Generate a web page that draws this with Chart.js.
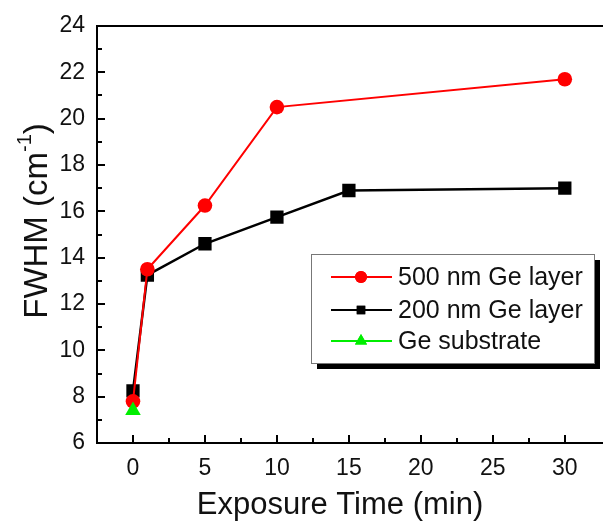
<!DOCTYPE html>
<html>
<head>
<meta charset="utf-8">
<script src="https://cdn.jsdelivr.net/npm/chart.js@4/dist/chart.umd.min.js"></script>
<style>html,body{margin:0;padding:0;background:#fff;overflow:hidden}</style>
</head>
<body>
<canvas id="c" width="603" height="521"></canvas>
<script>
const times500 = [0, 1, 5, 10, 30];
const fwhm500 = [7.8, 13.5, 16.25, 20.5, 21.7];
const times200 = [0, 1, 5, 10, 15, 30];
const fwhm200 = [8.25, 13.25, 14.6, 15.75, 16.9, 17.0];
const timesSub = [0];
const fwhmSub = [7.4];
const xTicks = [0, 5, 10, 15, 20, 25, 30];
const yTicks = [6, 8, 10, 12, 14, 16, 18, 20, 22, 24];
const names = ['500 nm Ge layer', '200 nm Ge layer', 'Ge substrate'];

const FONT = '"Liberation Sans", Arial, sans-serif';
const pts = (xs, ys) => xs.map((x, i) => ({x: x, y: ys[i]}));

function drawFrame(chart) {
    const ctx = chart.ctx;
    const xs = chart.scales.x, ys = chart.scales.y;
    const L = Math.round(xs.getPixelForValue(-2.5));
    const R = 603;
    const T = Math.round(ys.getPixelForValue(24));
    const B = Math.round(ys.getPixelForValue(6));
    ctx.save();
    ctx.fillStyle = '#fff';
    ctx.fillText(' ' + L + ' ' + T + ' ' + B, 450, 10);
    ctx.fillStyle = '#000';
    // box lines (right edge is cut off in the figure)
    ctx.fillRect(L - 1, T - 1, R - L + 1, 2);
    ctx.fillRect(L - 1, T - 1, 2, B - T + 2);
    ctx.fillRect(L - 1, B - 1, R - L + 1, 2);
    // inner ticks, y
    for (let v = 7; v < 24; v++) {
        const p = Math.round(ys.getPixelForValue(v));
        const len = v % 2 === 0 ? 8 : 5;
        ctx.fillRect(L, p - 1, len, 2);
    }
    // inner ticks, x
    for (let v = 0; v <= 30; v += 2.5) {
        const p = Math.round(xs.getPixelForValue(v));
        const len = v % 5 === 0 ? 8 : 5;
        ctx.fillRect(p - 1, B - len, 2, len);
    }
    ctx.restore();
}

const frame = {
    id: 'frame',
    beforeDatasetsDraw(chart) {
        drawFrame(chart);
    },
    afterDraw(chart) {
        drawFrame(chart);
        const ctx = chart.ctx;

        // axis titles
        ctx.save();
        ctx.fillStyle = '#111';
        ctx.font = '31px ' + FONT;
        ctx.textAlign = 'center';
        ctx.textBaseline = 'alphabetic';
        ctx.fillText('Exposure Time (min)', 340, 514);

        ctx.translate(35, 221);
        ctx.rotate(-Math.PI / 2);
        ctx.textAlign = 'left';
        const big = '33px ' + FONT, small = '20px ' + FONT;
        ctx.font = big;
        const w1 = ctx.measureText('FWHM (cm').width, w3 = ctx.measureText(')').width;
        ctx.font = small;
        const w2 = ctx.measureText('-1').width;
        let x = -(w1 + w2 + w3) / 2;
        ctx.font = big;
        ctx.fillText('FWHM (cm', x, 12);
        x += w1;
        ctx.font = small;
        ctx.fillText('-1', x, -4);
        x += w2;
        ctx.font = big;
        ctx.fillText(')', x, 12);
        ctx.restore();

        // legend box
        ctx.save();
        ctx.fillStyle = '#000';
        ctx.fillRect(317, 260, 283, 109);
        ctx.fillStyle = '#fff';
        ctx.fillRect(311, 254, 283, 109);
        ctx.strokeStyle = '#777';
        ctx.lineWidth = 1;
        ctx.strokeRect(311.5, 254.5, 283, 109);
        const rows = [277, 310, 341];
        chart.data.datasets.forEach((ds, i) => {
            const y = rows[i];
            ctx.fillStyle = ds.borderColor;
            ctx.fillRect(331, y - 1, 61, 2);
            Chart.helpers.drawPoint(ctx, {pointStyle: ds.pointStyle, radius: ds.legendRadius, borderWidth: 0, rotation: 0}, 361, y);
            ctx.fillStyle = ds.backgroundColor;
            ctx.fill();
            ctx.fillStyle = '#111';
            ctx.font = '25px ' + FONT;
            ctx.textAlign = 'left';
            ctx.textBaseline = 'middle';
            ctx.fillText(ds.label, 398, y + 1);
        });
        ctx.restore();
    }
};

new Chart(document.getElementById('c'), {
    type: 'scatter',
    data: {
        datasets: [
            {
                label: names[0],
                data: pts(times500, fwhm500),
                showLine: true,
                borderColor: '#ff0000',
                backgroundColor: '#ff0000',
                borderWidth: 2,
                pointStyle: 'circle',
                pointRadius: 7.3,
                pointBorderWidth: 0,
                legendRadius: 6,
                order: 1
            },
            {
                label: names[1],
                data: pts(times200, fwhm200),
                showLine: true,
                borderColor: '#000000',
                backgroundColor: '#000000',
                borderWidth: 2.5,
                pointStyle: 'rect',
                pointRadius: 9.4,
                pointBorderWidth: 0,
                legendRadius: 6,
                order: 2
            },
            {
                label: names[2],
                data: pts(timesSub, fwhmSub),
                showLine: true,
                borderColor: '#00ee00',
                backgroundColor: '#00ee00',
                borderWidth: 2,
                pointStyle: 'triangle',
                pointRadius: 9,
                pointBorderWidth: 0,
                legendRadius: 7,
                order: 0
            }
        ]
    },
    options: {
        responsive: false,
        animation: false,
        layout: {padding: {top: 26, right: 0, left: 0, bottom: 0}},
        plugins: {legend: {display: false}, tooltip: {enabled: false}},
        scales: {
            x: {
                type: 'linear',
                min: -2.5,
                max: 32,
                afterBuildTicks: s => { s.ticks = xTicks.map(v => ({value: v})); },
                afterFit: s => { s.height = 78; },
                grid: {display: false},
                border: {display: false},
                ticks: {color: '#111', padding: 4, maxRotation: 0, font: {family: FONT, size: 23}}
            },
            y: {
                min: 6,
                max: 24,
                afterBuildTicks: s => { s.ticks = yTicks.map(v => ({value: v})); },
                afterFit: s => { s.width = 97; },
                grid: {display: false},
                border: {display: false},
                ticks: {color: '#111', padding: 4, font: {family: FONT, size: 23}}
            }
        }
    },
    plugins: [frame]
});
</script>
</body>
</html>
